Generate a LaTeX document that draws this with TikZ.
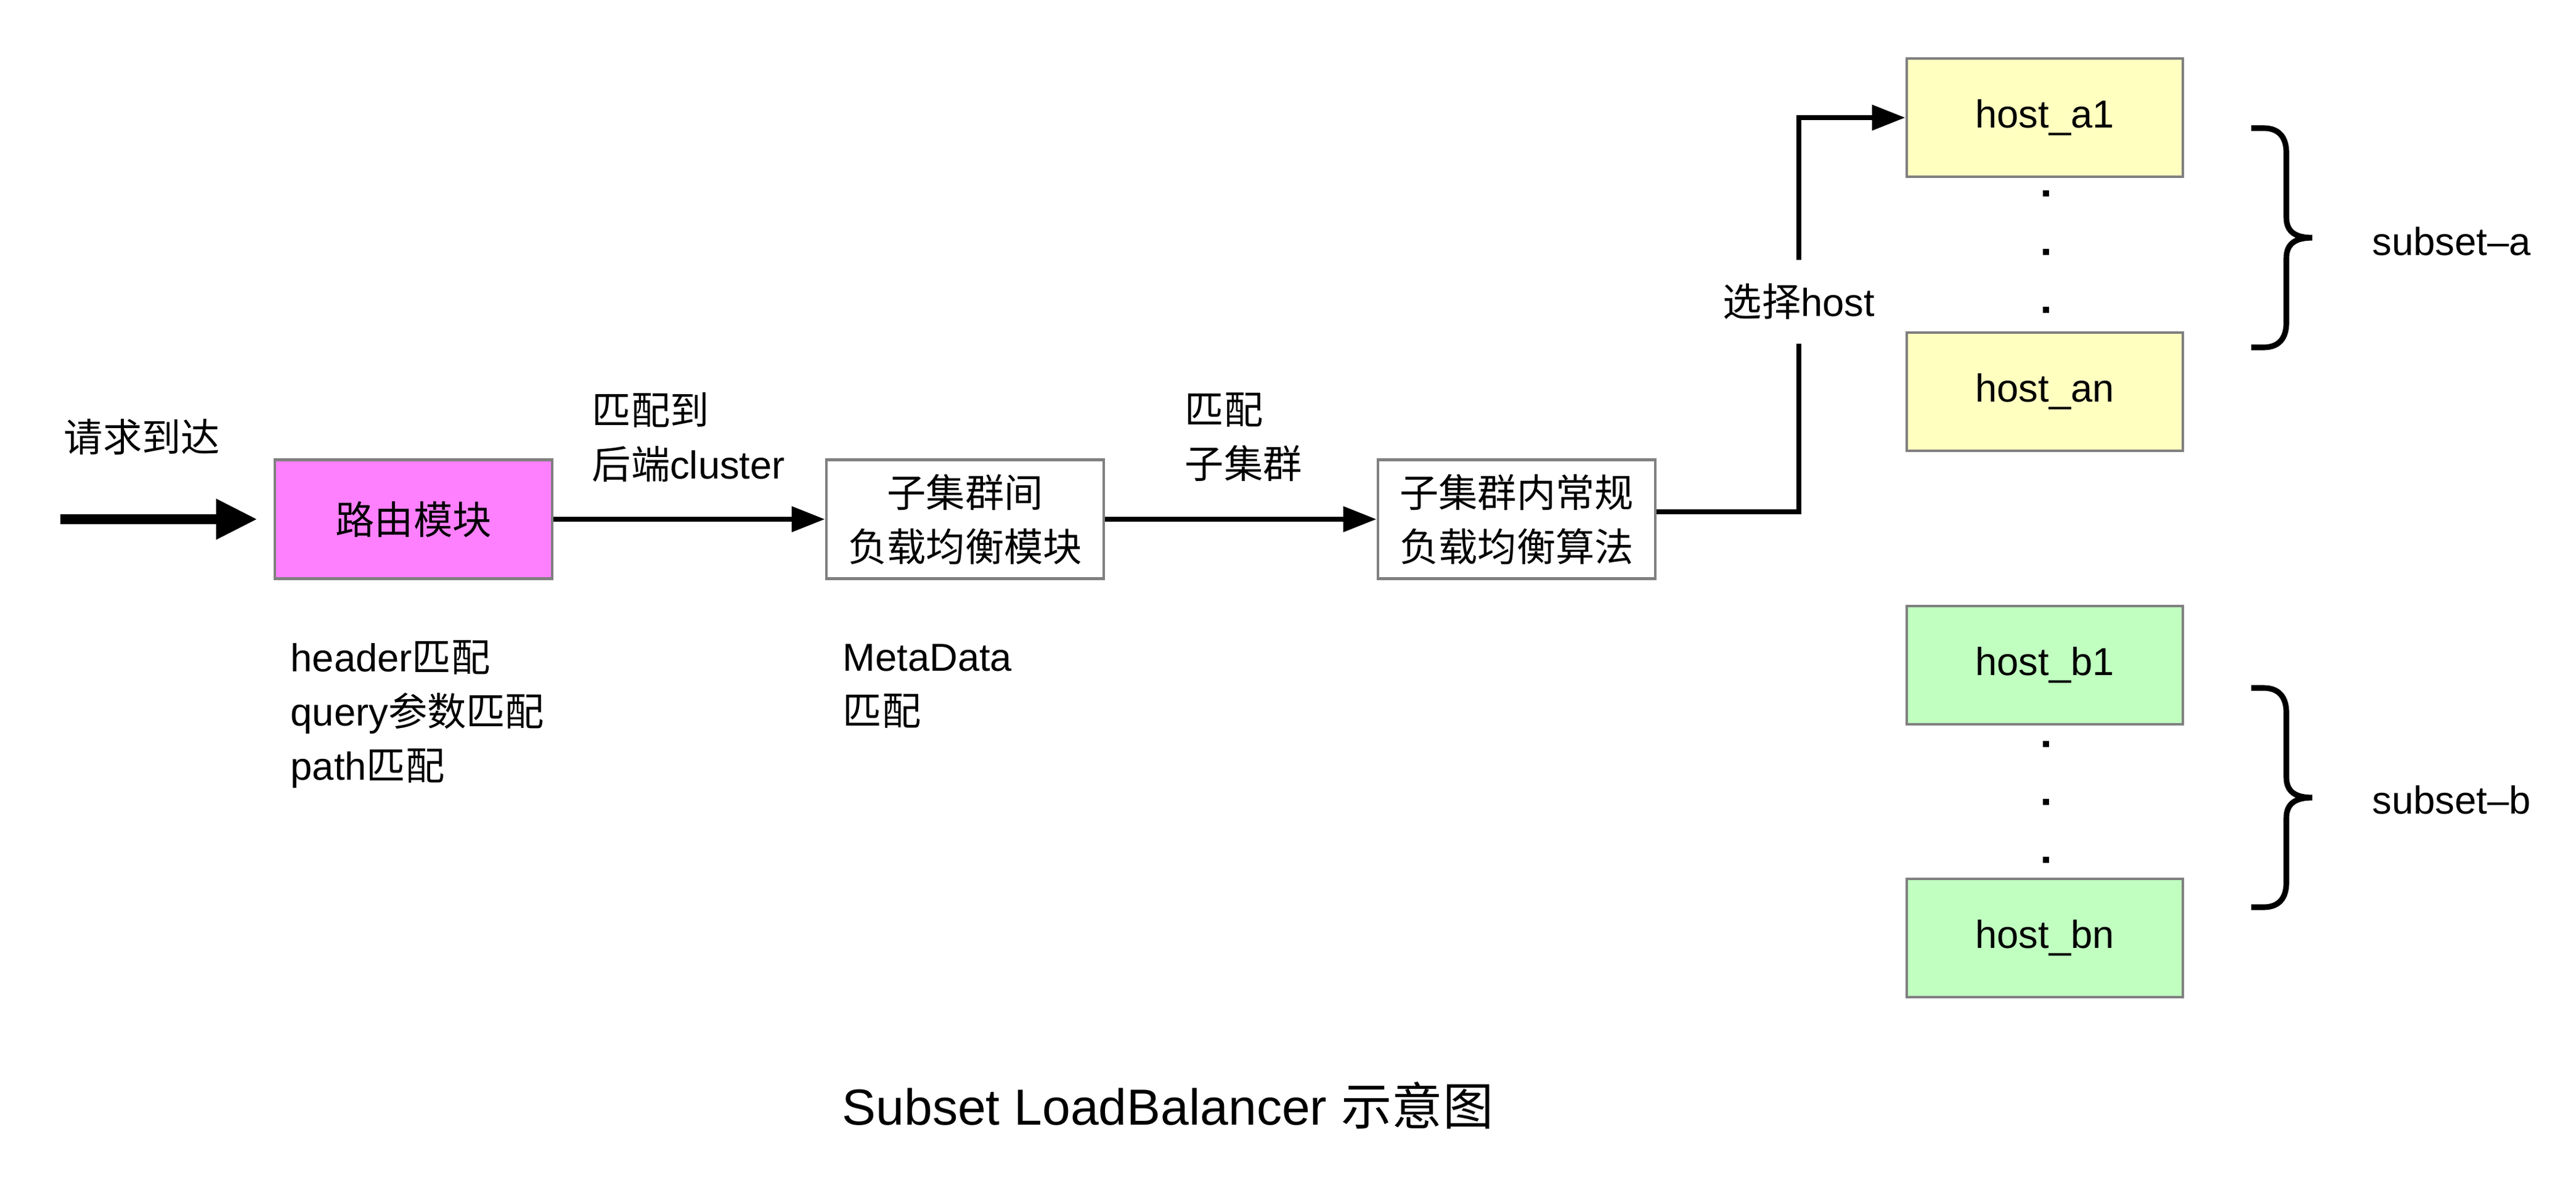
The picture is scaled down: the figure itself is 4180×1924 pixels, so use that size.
\documentclass[tikz,border=0pt]{standalone}
\usepackage{fontspec}
\setmainfont{Liberation Sans}
\newfontfamily\cjk{Noto Sans CJK SC}
\usepackage{xcolor}
\usepackage{tikz}
\usetikzlibrary{arrows.meta}

\definecolor{routepink}{RGB}{255,128,255}
\definecolor{hostyellow}{RGB}{255,255,192}
\definecolor{hostgreen}{RGB}{192,255,192}
\definecolor{boxgray}{RGB}{128,128,128}

\tikzset{
	every node/.style={font=\fontsize{18}{25}\selectfont},
	modbox/.style={draw=boxgray, line width=1.3pt, minimum width=4.5cm, minimum height=1.93cm, align=center, inner sep=0pt},
	hostbox/.style={modbox, minimum width=4.48cm, minimum height=1.92cm},
	flow/.style={line width=2.3pt, -{Triangle[length=0.54cm, width=0.40cm]}},
	lbl/.style={align=left, anchor=west, inner sep=0pt},
	subbrace/.style={line width=2.6pt},
}

\begin{document}
\begin{tikzpicture}[x=0.01cm, y=-0.01cm]
				\useasboundingbox (0,0) rectangle (4180,1924);
				
				%Modules
				\node[modbox, fill=routepink] (route) at (671,843) {{\cjk 路由模块}};
				\node[modbox, fill=white] (inter) at (1566,843) {{\cjk 子集群间}\\{\cjk 负载均衡模块}};
				\node[modbox, fill=white] (intra) at (2461,843) {{\cjk 子集群内常规}\\{\cjk 负载均衡算法}};
				
				%Hosts
				\node[hostbox, fill=hostyellow] (ha1) at (3318,191) {host\_a1};
				\node[hostbox, fill=hostyellow] (han) at (3318,636) {host\_an};
				\node[hostbox, fill=hostgreen] (hb1) at (3318,1080) {host\_b1};
				\node[hostbox, fill=hostgreen] (hbn) at (3318,1523) {host\_bn};
				\foreach \y in {314,409,503,1208,1302,1396}
					\fill (3315,\y-5) rectangle ++(10,10);
				
				%Labels
				\coordinate (start) at (98,843);
				\node[lbl] (arrive) at (103,710) {{\cjk 请求到达}};
				\node[lbl] (tocluster) at (960,710) {{\cjk 匹配到}\\{\cjk 后端}cluster};
				\node[lbl] (tosubset) at (1922,710) {{\cjk 匹配}\\{\cjk 子集群}};
				\node[lbl] (routerule) at (471,1160) {header{\cjk 匹配}\\query{\cjk 参数匹配}\\path{\cjk 匹配}};
				\node[lbl] (metarule) at (1367,1114) {MetaData\\{\cjk 匹配}};
				\node[minimum height=1.35cm, inner sep=0pt] (sel) at (2919,490) {{\cjk 选择}host};
				
				%Lines
				\draw[line width=4.5pt, -{Triangle[length=0.67cm, width=0.62cm]}, shorten >=0.26cm] (start) -- (route.west);
				\draw[flow] (route) -- (inter);
				\draw[flow] (inter) -- (intra);
				\draw[line width=2.3pt] ([yshift=0.12cm]intra.east) -| (sel);
				\draw[flow] (sel) |- (ha1.west);
				
				%Subsets
				\coordinate (bracea) at (3653,208);
				\coordinate (braceb) at (3653,1117);
				\foreach \b in {bracea,braceb}
					\draw[subbrace] (\b) -- ++(20,0) .. controls +(25,0) and +(0,-25) .. ++(37,40) -- ++(0,105)
						.. controls +(0,25) and +(-25,0) .. ++(42,33) .. controls +(-25,0) and +(0,-25) .. ++(-42,33)
						-- ++(0,105) .. controls +(0,25) and +(25,0) .. ++(-37,40) -- ++(-20,0);
				\node[lbl] (suba) at (3849,392) {subset–a};
				\node[lbl] (subb) at (3849,1299) {subset–b};
				
				%Title
				\node[font=\fontsize{23.4}{28}\selectfont] (title) at (1895,1795) {Subset LoadBalancer {\cjk 示意图}};
			\end{tikzpicture}
\end{document}
